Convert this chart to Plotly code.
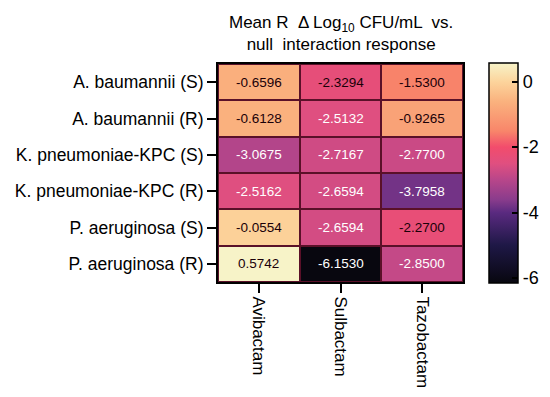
import plotly.graph_objects as go

organisms = ["A. baumannii (S)", "A. baumannii (R)", "K. pneumoniae-KPC (S)",
             "K. pneumoniae-KPC (R)", "P. aeruginosa (S)", "P. aeruginosa (R)"]
inhibitors = ["Avibactam", "Sulbactam", "Tazobactam"]
avibactam = [-0.6596, -0.6128, -3.0675, -2.5162, -0.0554, 0.5742]
sulbactam = [-2.3294, -2.5132, -2.7167, -2.6594, -2.6594, -6.1530]
tazobactam = [-1.5300, -0.9265, -2.7700, -3.7958, -2.2700, -2.8500]
cbar_ticks = [0, -2, -4, -6]

z = [[a, s, t] for a, s, t in zip(avibactam, sulbactam, tazobactam)]
zmin = min(min(r) for r in z)
zmax = max(max(r) for r in z)

# colour stops (value, colour) sampled from the reference colour bar
stops = [(-6.153, "#08070f"), (-5.0, "#1e1846"), (-4.0, "#5a2a80"), (-3.6, "#8a3c8c"),
         (-3.0, "#b8468a"), (-2.5, "#e04f80"), (-2.0, "#f24c6c"), (-1.5, "#f8866a"),
         (-0.6, "#fab27e"), (0.0, "#fcd49c"), (0.5742, "#f7f3c8")]
colorscale = [[(v - zmin) / (zmax - zmin), c] for v, c in stops]

fig = go.Figure(go.Heatmap(
    z=z, x=inhibitors, y=organisms, colorscale=colorscale,
    zmin=zmin, zmax=zmax, xgap=2, ygap=2,
    colorbar=dict(
        x=1.106, xanchor="left", xpad=0, y=0.5, yanchor="middle",
        len=220, lenmode="pixels", thickness=29, ypad=0,
        outlinecolor="black", outlinewidth=1.5,
        tickvals=cbar_ticks, ticktext=[str(v) for v in cbar_ticks],
        ticks="inside", ticklen=6, tickwidth=1.5, tickcolor="black",
        tickfont=dict(size=18, color="black", family="Liberation Sans, Arial"),
    ),
    hoverinfo="skip",
))

annotations = []
for i, org in enumerate(organisms):
    for j, inh in enumerate(inhibitors):
        v = z[i][j]
        col = "white" if v < -2.4 else "#1a0008"
        annotations.append(dict(x=inh, y=org, text=f"{v:.4f}", showarrow=False,
                                font=dict(size=13.5, color=col,
                                          family="Liberation Sans, Arial")))

annotations.append(dict(
    text="Mean R  Δ Log<sub>10</sub> CFU/mL  vs.<br>null  interaction response",
    xref="paper", yref="paper", x=0.5, y=1 + (64 - 34) / 218,
    xanchor="center", yanchor="middle", showarrow=False,
    font=dict(size=17, color="black", family="Liberation Sans, Arial")))

fig.update_layout(
    width=550, height=397,
    margin=dict(l=218, r=87, t=64, b=115, autoexpand=False),
    paper_bgcolor="white", plot_bgcolor="#5a1028",
    annotations=annotations,
    font=dict(family="Liberation Sans, Arial", color="black"),
)
fig.update_xaxes(tickangle=90, ticks="outside", ticklen=9, tickwidth=2, tickcolor="black",
                 tickfont=dict(size=17, color="black"), showline=True, linecolor="black",
                 linewidth=2, mirror=True, showgrid=False, zeroline=False, automargin=False)
fig.update_yaxes(autorange="reversed", ticks="outside", ticklen=9, tickwidth=2,
                 tickcolor="black", tickfont=dict(size=17.5, color="black"),
                 showline=True, linecolor="black", linewidth=2, mirror=True,
                 showgrid=False, zeroline=False, automargin=False)

fig.write_html("out.html", config={"displayModeBar": False},
               post_script="document.body.style.margin='0';document.body.style.overflow='hidden';")
